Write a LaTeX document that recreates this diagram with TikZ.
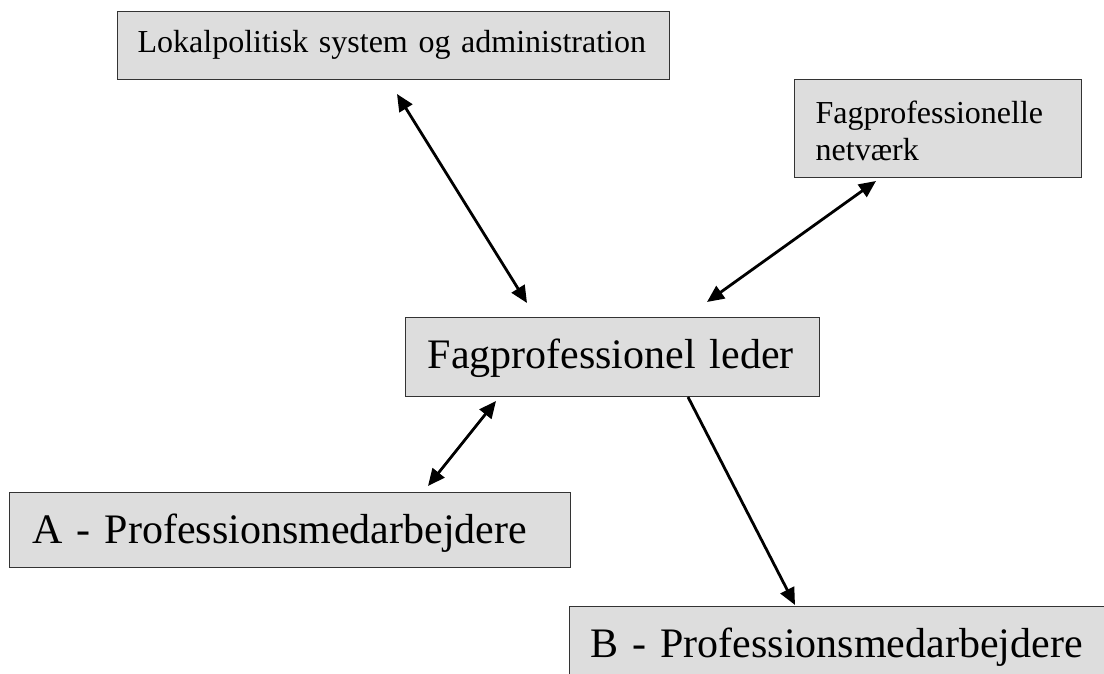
\documentclass[tikz,border=0pt]{standalone}
\usepackage{fontspec}
\setmainfont{Liberation Serif}
\usetikzlibrary{arrows.meta}
\definecolor{boxgray}{RGB}{221,221,221}
\begin{document}
\begin{tikzpicture}[x=1pt,y=-1pt,
  box/.style={draw=black!80, line width=1.3pt, fill=boxgray, anchor=north west, inner ysep=0pt, align=left},
  small/.style={font=\fontsize{32}{36.8}\selectfont},
  big/.style={font=\fontsize{42}{48}\selectfont},
  link/.style={line width=2.8pt, {Triangle[length=17pt,width=15pt]}-{Triangle[length=17pt,width=15pt]}},
  oneway/.style={line width=2.8pt, -{Triangle[length=17pt,width=15pt]}}]
\useasboundingbox (0,0) rectangle (1104,674);
\clip (0,0) rectangle (1104,674);

\node[box, small, inner xsep=20pt, text width=512pt, text height=41pt, text depth=27pt] (lokal) at (117,11) {Lokalpolitisk system og administration};
\node[box, small, inner xsep=21pt, text width=245pt, text height=44pt, text depth=54pt] (net) at (794,79) {Fagprofessionelle\\netværk};
\node[box, big, inner xsep=22pt, text width=370pt, text height=51pt, text depth=28pt] (leder) at (405,317) {Fagprofessionel leder};
\node[box, big, inner xsep=23pt, text width=515pt, text height=51pt, text depth=24pt] (A) at (9,492) {A - Professionsmedarbejdere};
\node[box, big, inner xsep=21pt, text width=600pt, text height=51pt, text depth=60pt] (B) at (569,606) {B - Professionsmedarbejdere};

\coordinate (l1) at (397,94);  \coordinate (l2) at (527,303);
\coordinate (n1) at (876,181); \coordinate (n2) at (707,302);
\coordinate (a1) at (496,401); \coordinate (a2) at (428,486);
\coordinate (b1) at (688,397); \coordinate (b2) at (795,605);

\draw[link] (l1) -- (l2);
\draw[link] (n1) -- (n2);
\draw[link] (a1) -- (a2);
\draw[oneway] (b1) -- (b2);
\end{tikzpicture}
\end{document}
